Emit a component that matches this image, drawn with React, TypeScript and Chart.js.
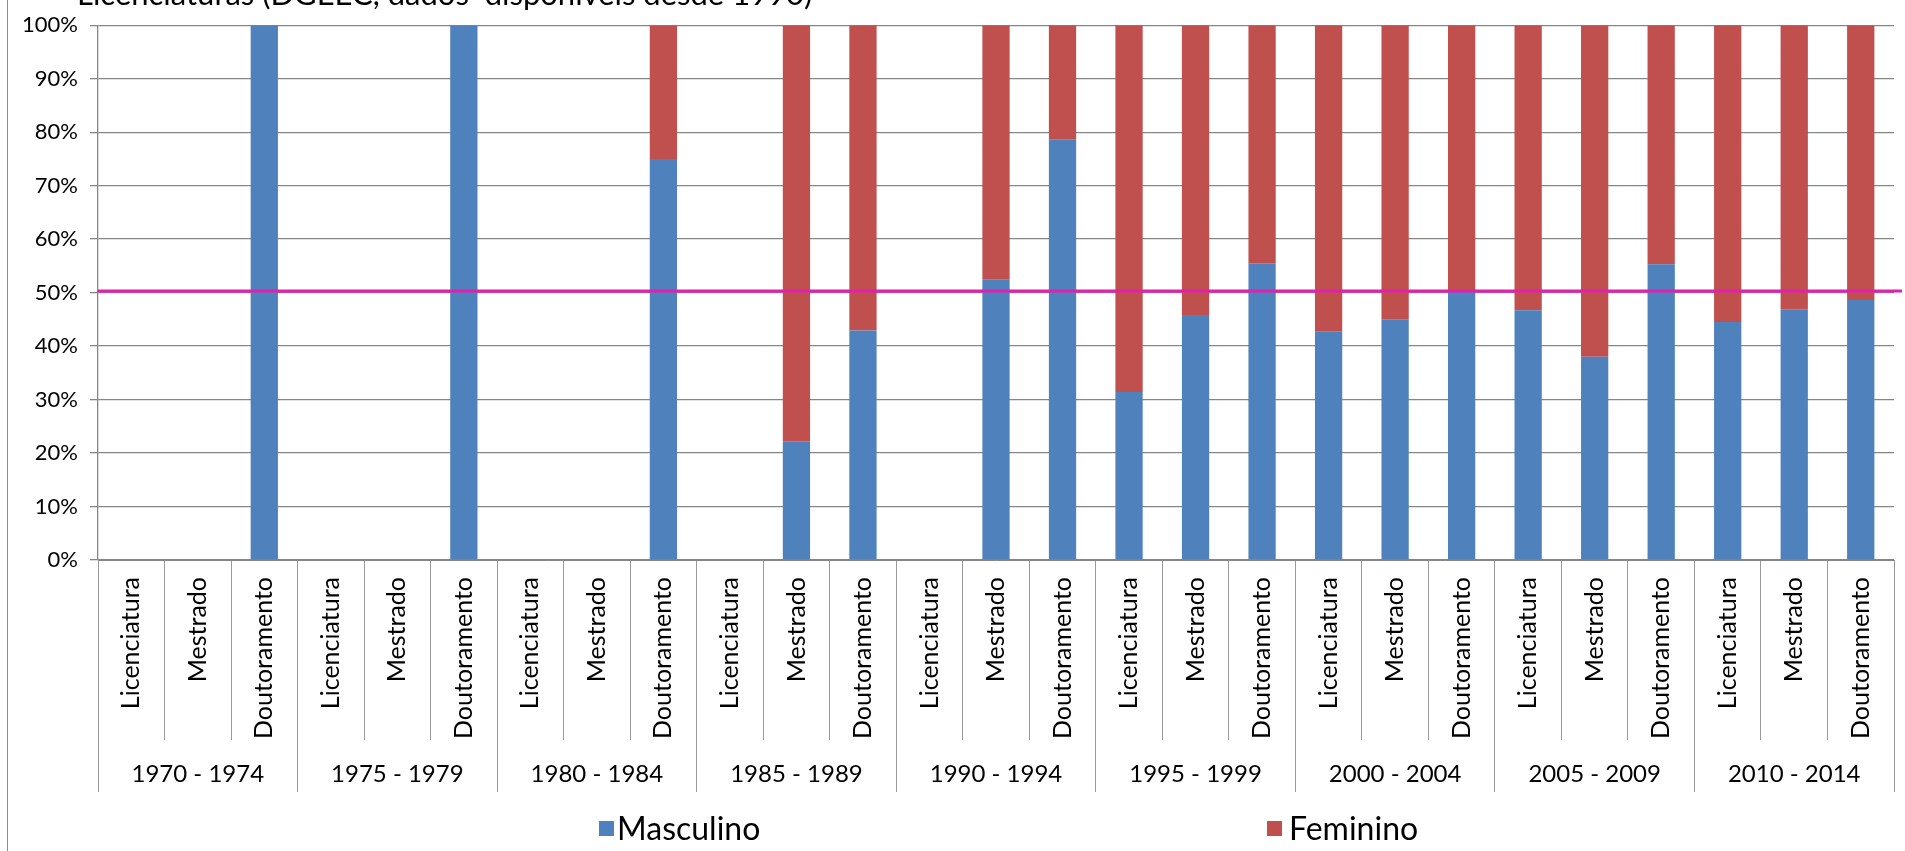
import React, { useEffect, useRef } from 'react';
import { Chart, registerables } from 'chart.js';

Chart.register(...registerables);

// ---- data ----
const titleText = 'Licenciaturas (DGEEC, dados  disponíveis desde 1990)';
const periods = [
  '1970 - 1974', '1975 - 1979', '1980 - 1984', '1985 - 1989', '1990 - 1994',
  '1995 - 1999', '2000 - 2004', '2005 - 2009', '2010 - 2014',
];
const levels = ['Licenciatura', 'Mestrado', 'Doutoramento'];
const categories = periods.flatMap(() => levels);
const seriesNames = ['Masculino', 'Feminino'];
const masculino = [
  0, 0, 100,
  0, 0, 100,
  0, 0, 75,
  0, 22.2, 42.9,
  0, 52.4, 78.6,
  31.4, 45.8, 55.5,
  42.7, 44.9, 50.1,
  46.7, 38.0, 55.3,
  44.5, 46.9, 48.6,
];
const feminino = [
  0, 0, 0,
  0, 0, 0,
  0, 0, 25,
  0, 77.8, 57.1,
  0, 47.6, 21.4,
  68.6, 54.2, 44.5,
  57.3, 55.1, 49.9,
  53.3, 62.0, 44.7,
  55.5, 53.1, 51.4,
];
const referenceLine = 50.3;
const yMax = 100;
const yStep = 10;

const BLUE = '#4F81BD';
const RED = '#C0504D';
const MAGENTA = '#E21FAE';

const refLinePlugin = {
  id: 'refLine',
  afterDatasetsDraw(chart: any) {
    const { ctx, chartArea, scales } = chart;
    const y = scales.y.getPixelForValue(referenceLine);
    ctx.save();
    ctx.strokeStyle = MAGENTA;
    ctx.lineWidth = 3;
    ctx.beginPath();
    ctx.moveTo(chartArea.left, y);
    ctx.lineTo(chartArea.right + 8, y);
    ctx.stroke();
    ctx.restore();
  },
};

export default function App() {
  const ref = useRef<HTMLCanvasElement>(null);

  useEffect(() => {
    Chart.defaults.font.family = 'Lato';
    Chart.defaults.color = '#000';
    const chart = new Chart(ref.current as HTMLCanvasElement, {
      type: 'bar',
      data: {
        labels: categories,
        datasets: [
          {
            label: seriesNames[0],
            data: masculino,
            backgroundColor: BLUE,
            borderWidth: 0,
            categoryPercentage: 1,
            barPercentage: 0.41,
            xAxisID: 'x',
          },
          {
            label: seriesNames[1],
            data: feminino,
            backgroundColor: RED,
            borderWidth: 0,
            categoryPercentage: 1,
            barPercentage: 0.41,
            xAxisID: 'x',
          },
        ],
      },
      options: {
        responsive: false,
        animation: false,
        layout: { padding: { left: 7, top: 22, right: 11, bottom: 59 } },
        plugins: {
          legend: { display: false },
          title: { display: false },
          tooltip: { enabled: false },
        },
        scales: {
          x: {
            type: 'category',
            position: 'bottom',
            stacked: true,
            weight: 0,
            offset: true,
            grid: {
              offset: true,
              drawOnChartArea: false,
              drawTicks: true,
              tickLength: 180,
              color: '#9a9a9a',
              lineWidth: 1,
            },
            border: { display: true, color: '#868686', width: 1 },
            ticks: {
              autoSkip: false,
              minRotation: 90,
              maxRotation: 90,
              padding: -163,
              color: '#000',
              font: { family: 'Lato', size: 25 },
            },
            afterFit: (s: any) => {
              s.height = 180;
            },
          },
          x2: {
            type: 'category',
            labels: periods,
            position: 'bottom',
            weight: 1,
            offset: true,
            grid: {
              offset: true,
              drawOnChartArea: false,
              drawTicks: true,
              tickLength: 52,
              color: '#9a9a9a',
              lineWidth: 1,
            },
            border: { display: false },
            ticks: {
              autoSkip: false,
              minRotation: 0,
              maxRotation: 0,
              padding: -32,
              color: '#000',
              font: { family: 'Lato', size: 24 },
            },
            afterFit: (s: any) => {
              s.height = 52;
            },
          },
          y: {
            type: 'linear',
            position: 'left',
            stacked: true,
            min: 0,
            max: yMax,
            ticks: {
              stepSize: yStep,
              padding: 12,
              color: '#000',
              font: { family: 'Lato', size: 22 },
              callback: (v: any) => v + '%',
            },
            grid: { color: '#868686', lineWidth: 1.3, tickLength: 8 },
            border: { display: true, color: '#868686', width: 1.3 },
            afterFit: (s: any) => {
              s.width = 91;
            },
          },
        },
      } as any,
      plugins: [refLinePlugin],
    });
    return () => chart.destroy();
  }, []);

  const legendText: React.CSSProperties = {
    position: 'absolute',
    top: 810,
    fontFamily: 'Lato',
    fontSize: 32,
    lineHeight: '36px',
    color: '#000',
    whiteSpace: 'pre',
  };
  const swatch: React.CSSProperties = {
    position: 'absolute',
    top: 821,
    width: 15,
    height: 15,
  };

  return (
    <div
      style={{
        position: 'fixed',
        left: 0,
        top: 0,
        width: 1905,
        height: 851,
        background: '#fff',
        overflow: 'hidden',
      }}
    >
      <canvas
        ref={ref}
        width={1905}
        height={851}
        style={{ position: 'absolute', left: 0, top: 0, width: 1905, height: 851 }}
      />
      <div
        style={{
          position: 'absolute',
          left: 7,
          top: 0,
          height: 851,
          borderLeft: '1px solid #8a8a8a',
        }}
      />
      <div
        style={{
          position: 'absolute',
          left: 77,
          top: -22,
          fontFamily: 'Lato',
          fontSize: 31,
          lineHeight: '31px',
          whiteSpace: 'pre',
          color: '#000',
        }}
      >
        {titleText}
      </div>
      <div style={{ ...swatch, left: 599, background: BLUE }} />
      <div style={{ ...legendText, left: 617 }}>{seriesNames[0]}</div>
      <div style={{ ...swatch, left: 1267, background: RED }} />
      <div style={{ ...legendText, left: 1289 }}>{seriesNames[1]}</div>
    </div>
  );
}
